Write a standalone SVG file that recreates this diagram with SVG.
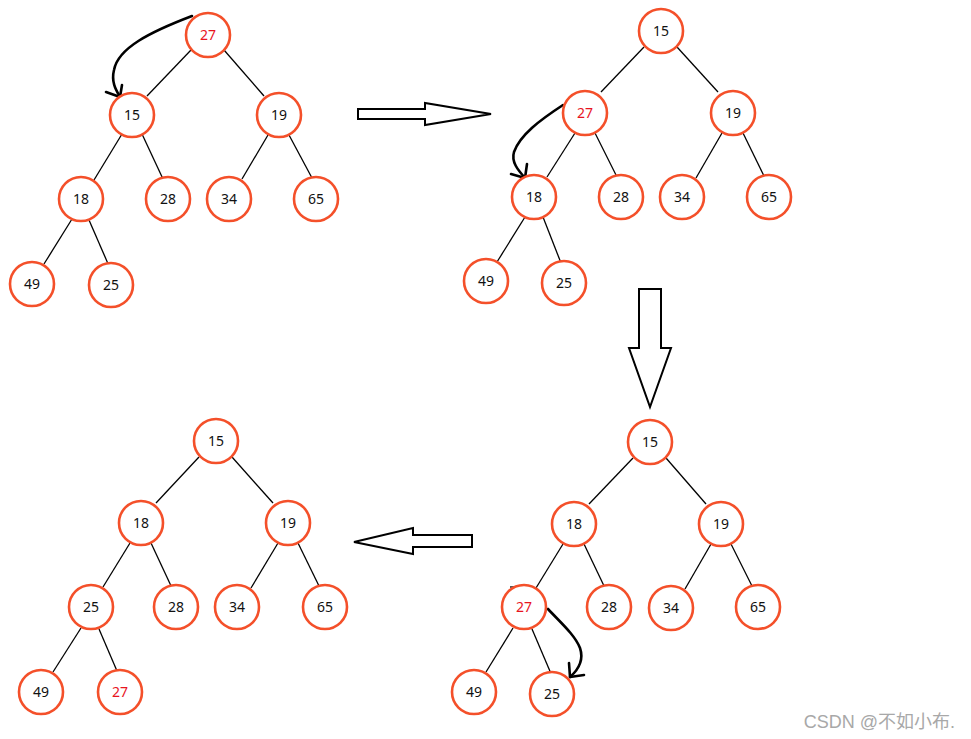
<svg xmlns="http://www.w3.org/2000/svg" width="971" height="739" viewBox="0 0 971 739">
<style>
.n circle{fill:#fff;stroke:#f4502a;stroke-width:2.6}
.n text{font-family:"Noto Sans","Liberation Sans",sans-serif;font-size:14px;text-anchor:middle;fill:#111}
.n text.r{fill:#e8141e}
.e line{stroke:#000;stroke-width:1.3}
.c path{fill:none;stroke:#000;stroke-width:2.6;stroke-linecap:round;stroke-linejoin:round}
.b{fill:#fff;stroke:#000;stroke-width:2}
</style>
<rect width="971" height="739" fill="#fff"/>
<g id="edges" class="e">
<line x1="191" y1="50" x2="147" y2="96"/>
<line x1="224" y1="50" x2="264" y2="96"/>
<line x1="122" y1="134" x2="94" y2="180"/>
<line x1="142" y1="134" x2="163" y2="179"/>
<line x1="268" y1="135" x2="242" y2="179"/>
<line x1="289" y1="135" x2="312" y2="178"/>
<line x1="72" y1="219" x2="44" y2="264"/>
<line x1="89" y1="220" x2="109" y2="266"/>
<line x1="644" y1="47" x2="601" y2="92"/>
<line x1="677" y1="47" x2="718" y2="92"/>
<line x1="575" y1="133" x2="547" y2="177"/>
<line x1="595" y1="133" x2="617" y2="177"/>
<line x1="722" y1="133" x2="696" y2="178"/>
<line x1="743" y1="133" x2="765" y2="178"/>
<line x1="525" y1="217" x2="497" y2="262"/>
<line x1="543" y1="217" x2="561" y2="263"/>
<line x1="633" y1="458" x2="589" y2="504"/>
<line x1="666" y1="458" x2="706" y2="504"/>
<line x1="563" y1="544" x2="536" y2="588"/>
<line x1="584" y1="544" x2="605" y2="588"/>
<line x1="711" y1="544" x2="685" y2="589"/>
<line x1="731" y1="544" x2="753" y2="588"/>
<line x1="513" y1="628" x2="486" y2="672"/>
<line x1="532" y1="629" x2="552" y2="676"/>
<line x1="510" y1="587" x2="515" y2="587"/>
<line x1="552" y1="517" x2="556" y2="517"/>
<line x1="199" y1="457" x2="156" y2="503"/>
<line x1="232" y1="457" x2="273" y2="503"/>
<line x1="130" y1="543" x2="103" y2="587"/>
<line x1="151" y1="543" x2="172" y2="588"/>
<line x1="278" y1="543" x2="251" y2="588"/>
<line x1="298" y1="543" x2="320" y2="588"/>
<line x1="81" y1="628" x2="53" y2="672"/>
<line x1="99" y1="629" x2="117" y2="671"/>
</g>
<g id="swaps" class="c">
<path d="M192 16 C150 32 118 48 114 70 C111 82 116 90 120 97"/>
<path d="M106 92 L120 97 L122 85"/>
<path d="M563 105 C540 120 520 135 514 152 C511 162 518 170 525 178"/>
<path d="M511 174 L525 178 L527 164"/>
<path d="M548 609 C560 622 575 635 580 648 C584 660 578 670 570 677"/>
<path d="M569 663 L570 677 L584 675"/>
</g>
<g id="big-arrows">
<polygon class="b" points="358,109 425,109 425,103 491,114 425,125 425,119 358,119"/>
<polygon class="b" points="639,289 661,289 661,348 671,348 650,407 629,348 639,348"/>
<polygon class="b" points="472,535 413,535 413,528 354,542 413,554 413,547 472,547"/>
</g>
<g id="tree1">
<g id="t1-27" class="n"><circle cx="208" cy="35" r="22"/><text class="r" x="208" y="40">27</text></g>
<g id="t1-15" class="n"><circle cx="132" cy="115" r="22"/><text x="132" y="120">15</text></g>
<g id="t1-19" class="n"><circle cx="279" cy="115" r="22"/><text x="279" y="120">19</text></g>
<g id="t1-18" class="n"><circle cx="81" cy="199" r="22"/><text x="81" y="204">18</text></g>
<g id="t1-28" class="n"><circle cx="168" cy="199" r="22"/><text x="168" y="204">28</text></g>
<g id="t1-34" class="n"><circle cx="229" cy="199" r="22"/><text x="229" y="204">34</text></g>
<g id="t1-65" class="n"><circle cx="316" cy="199" r="22"/><text x="316" y="204">65</text></g>
<g id="t1-49" class="n"><circle cx="32" cy="284" r="22"/><text x="32" y="289">49</text></g>
<g id="t1-25" class="n"><circle cx="111" cy="285" r="22"/><text x="111" y="290">25</text></g>
</g>
<g id="tree2">
<g id="t2-15" class="n"><circle cx="661" cy="31" r="22"/><text x="661" y="36">15</text></g>
<g id="t2-27" class="n"><circle cx="585" cy="113" r="22"/><text class="r" x="585" y="118">27</text></g>
<g id="t2-19" class="n"><circle cx="733" cy="113" r="22"/><text x="733" y="118">19</text></g>
<g id="t2-18" class="n"><circle cx="534" cy="197" r="22"/><text x="534" y="202">18</text></g>
<g id="t2-28" class="n"><circle cx="621" cy="197" r="22"/><text x="621" y="202">28</text></g>
<g id="t2-34" class="n"><circle cx="682" cy="197" r="22"/><text x="682" y="202">34</text></g>
<g id="t2-65" class="n"><circle cx="769" cy="197" r="22"/><text x="769" y="202">65</text></g>
<g id="t2-49" class="n"><circle cx="486" cy="281" r="22"/><text x="486" y="286">49</text></g>
<g id="t2-25" class="n"><circle cx="564" cy="283" r="22"/><text x="564" y="288">25</text></g>
</g>
<g id="tree3">
<g id="t3-15" class="n"><circle cx="650" cy="442" r="22"/><text x="650" y="447">15</text></g>
<g id="t3-18" class="n"><circle cx="574" cy="524" r="22"/><text x="574" y="529">18</text></g>
<g id="t3-19" class="n"><circle cx="721" cy="524" r="22"/><text x="721" y="529">19</text></g>
<g id="t3-27" class="n"><circle cx="524" cy="607" r="22"/><text class="r" x="524" y="612">27</text></g>
<g id="t3-28" class="n"><circle cx="609" cy="607" r="22"/><text x="609" y="612">28</text></g>
<g id="t3-34" class="n"><circle cx="671" cy="608" r="22"/><text x="671" y="613">34</text></g>
<g id="t3-65" class="n"><circle cx="758" cy="607" r="22"/><text x="758" y="612">65</text></g>
<g id="t3-49" class="n"><circle cx="474" cy="692" r="22"/><text x="474" y="697">49</text></g>
<g id="t3-25" class="n"><circle cx="552" cy="694" r="22"/><text x="552" y="699">25</text></g>
</g>
<g id="tree4">
<g id="t4-15" class="n"><circle cx="216" cy="441" r="22"/><text x="216" y="446">15</text></g>
<g id="t4-18" class="n"><circle cx="141" cy="523" r="22"/><text x="141" y="528">18</text></g>
<g id="t4-19" class="n"><circle cx="288" cy="523" r="22"/><text x="288" y="528">19</text></g>
<g id="t4-25" class="n"><circle cx="91" cy="607" r="22"/><text x="91" y="612">25</text></g>
<g id="t4-28" class="n"><circle cx="176" cy="607" r="22"/><text x="176" y="612">28</text></g>
<g id="t4-34" class="n"><circle cx="237" cy="607" r="22"/><text x="237" y="612">34</text></g>
<g id="t4-65" class="n"><circle cx="325" cy="607" r="22"/><text x="325" y="612">65</text></g>
<g id="t4-49" class="n"><circle cx="41" cy="692" r="22"/><text x="41" y="697">49</text></g>
<g id="t4-27" class="n"><circle cx="120" cy="692" r="22"/><text class="r" x="120" y="697">27</text></g>
</g>
<text x="955" y="728" text-anchor="end" font-family="'Liberation Sans','Noto Sans CJK SC',sans-serif" font-size="18" fill="#a8a8a8">CSDN @不如小布.</text>
</svg>
